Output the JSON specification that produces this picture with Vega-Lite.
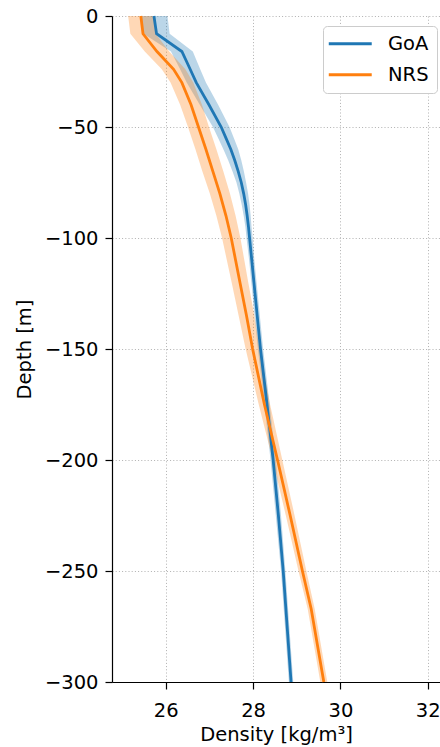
{
  "$schema": "https://vega.github.io/schema/vega-lite/v6.json",
  "width": 328,
  "height": 666,
  "autosize": {"type": "none"},
  "padding": {"left": 112, "top": 16, "right": 0, "bottom": 65},
  "background": "white",
  "config": {
    "view": {"stroke": null},
    "font": "DejaVu Sans",
    "axis": {
      "labelFont": "DejaVu Sans",
      "titleFont": "DejaVu Sans",
      "labelFontSize": 19.5,
      "titleFontSize": 19.5,
      "titleFontWeight": "normal",
      "labelColor": "black",
      "titleColor": "black",
      "domainColor": "black",
      "domainWidth": 1.2,
      "tickColor": "black",
      "tickWidth": 1.2,
      "tickSize": 7,
      "labelPadding": 7,
      "gridColor": "#b0b0b0",
      "gridDash": [1, 2.2],
      "gridWidth": 1,
      "gridOpacity": 1
    },
    "legend": {
      "labelFont": "DejaVu Sans",
      "labelFontSize": 19.5,
      "labelColor": "black"
    }
  },
  "data": {
    "values": [
      {"region": "GoA", "depth": 0, "density": 25.73, "lo": 25.42, "hi": 26.04},
      {"region": "GoA", "depth": -8, "density": 25.79, "lo": 25.49, "hi": 26.09},
      {"region": "GoA", "depth": -16, "density": 26.37, "lo": 26.12, "hi": 26.62},
      {"region": "GoA", "depth": -24, "density": 26.56, "lo": 26.33, "hi": 26.79},
      {"region": "GoA", "depth": -30, "density": 26.70, "lo": 26.48, "hi": 26.92},
      {"region": "GoA", "depth": -40, "density": 26.99, "lo": 26.78, "hi": 27.20},
      {"region": "GoA", "depth": -50, "density": 27.27, "lo": 27.08, "hi": 27.46},
      {"region": "GoA", "depth": -55, "density": 27.38, "lo": 27.20, "hi": 27.56},
      {"region": "GoA", "depth": -60, "density": 27.49, "lo": 27.32, "hi": 27.66},
      {"region": "GoA", "depth": -65, "density": 27.58, "lo": 27.43, "hi": 27.73},
      {"region": "GoA", "depth": -70, "density": 27.66, "lo": 27.53, "hi": 27.79},
      {"region": "GoA", "depth": -75, "density": 27.73, "lo": 27.62, "hi": 27.84},
      {"region": "GoA", "depth": -80, "density": 27.785, "lo": 27.685, "hi": 27.885},
      {"region": "GoA", "depth": -85, "density": 27.83, "lo": 27.74, "hi": 27.92},
      {"region": "GoA", "depth": -90, "density": 27.865, "lo": 27.785, "hi": 27.945},
      {"region": "GoA", "depth": -95, "density": 27.895, "lo": 27.825, "hi": 27.965},
      {"region": "GoA", "depth": -100, "density": 27.92, "lo": 27.85, "hi": 27.99},
      {"region": "GoA", "depth": -110, "density": 27.97, "lo": 27.91, "hi": 28.03},
      {"region": "GoA", "depth": -120, "density": 28.02, "lo": 27.96, "hi": 28.08},
      {"region": "GoA", "depth": -130, "density": 28.07, "lo": 28.01, "hi": 28.13},
      {"region": "GoA", "depth": -140, "density": 28.12, "lo": 28.06, "hi": 28.18},
      {"region": "GoA", "depth": -150, "density": 28.17, "lo": 28.11, "hi": 28.23},
      {"region": "GoA", "depth": -175, "density": 28.32, "lo": 28.26, "hi": 28.38},
      {"region": "GoA", "depth": -200, "density": 28.46, "lo": 28.40, "hi": 28.52},
      {"region": "GoA", "depth": -225, "density": 28.58, "lo": 28.52, "hi": 28.64},
      {"region": "GoA", "depth": -250, "density": 28.69, "lo": 28.64, "hi": 28.74},
      {"region": "GoA", "depth": -275, "density": 28.78, "lo": 28.73, "hi": 28.83},
      {"region": "GoA", "depth": -300, "density": 28.87, "lo": 28.82, "hi": 28.92},
      {"region": "NRS", "depth": 0, "density": 25.43, "lo": 25.14, "hi": 25.72},
      {"region": "NRS", "depth": -8, "density": 25.48, "lo": 25.19, "hi": 25.77},
      {"region": "NRS", "depth": -16, "density": 25.80, "lo": 25.52, "hi": 26.08},
      {"region": "NRS", "depth": -24, "density": 26.18, "lo": 25.91, "hi": 26.45},
      {"region": "NRS", "depth": -30, "density": 26.37, "lo": 26.11, "hi": 26.63},
      {"region": "NRS", "depth": -40, "density": 26.58, "lo": 26.33, "hi": 26.83},
      {"region": "NRS", "depth": -50, "density": 26.75, "lo": 26.51, "hi": 26.99},
      {"region": "NRS", "depth": -60, "density": 26.92, "lo": 26.68, "hi": 27.16},
      {"region": "NRS", "depth": -70, "density": 27.08, "lo": 26.84, "hi": 27.32},
      {"region": "NRS", "depth": -80, "density": 27.24, "lo": 27.01, "hi": 27.47},
      {"region": "NRS", "depth": -90, "density": 27.38, "lo": 27.16, "hi": 27.60},
      {"region": "NRS", "depth": -100, "density": 27.50, "lo": 27.29, "hi": 27.71},
      {"region": "NRS", "depth": -110, "density": 27.60, "lo": 27.40, "hi": 27.80},
      {"region": "NRS", "depth": -120, "density": 27.70, "lo": 27.51, "hi": 27.89},
      {"region": "NRS", "depth": -135, "density": 27.85, "lo": 27.67, "hi": 28.03},
      {"region": "NRS", "depth": -150, "density": 27.99, "lo": 27.83, "hi": 28.15},
      {"region": "NRS", "depth": -175, "density": 28.26, "lo": 28.13, "hi": 28.39},
      {"region": "NRS", "depth": -200, "density": 28.56, "lo": 28.45, "hi": 28.67},
      {"region": "NRS", "depth": -225, "density": 28.85, "lo": 28.75, "hi": 28.95},
      {"region": "NRS", "depth": -250, "density": 29.13, "lo": 29.04, "hi": 29.22},
      {"region": "NRS", "depth": -267, "density": 29.33, "lo": 29.25, "hi": 29.41},
      {"region": "NRS", "depth": -300, "density": 29.62, "lo": 29.54, "hi": 29.70}
    ]
  },
  "encoding": {
    "y": {
      "field": "depth",
      "type": "quantitative",
      "scale": {"domain": [-300, 0], "nice": false, "zero": false},
      "axis": {"values": [0, -50, -100, -150, -200, -250, -300], "title": "Depth [m]", "titlePadding": 10, "grid": true, "labelFontSize": 19.5, "titleFontSize": 19.5}
    },
    "color": {
      "field": "region",
      "type": "nominal",
      "scale": {"domain": ["GoA", "NRS"], "range": ["#1f77b4", "#ff7f0e"]},
      "legend": {
        "title": null,
        "orient": "none",
        "legendX": 211,
        "legendY": 10,
        "symbolType": "M-3,0H3",
        "symbolSize": 205,
        "symbolOffset": 9.5,
        "symbolStrokeWidth": 2.8,
        "symbolOpacity": 1,
        "symbolFillColor": "transparent",
        "labelOffset": 28,
        "labelFontSize": 19.5,
        "rowPadding": 10,
        "padding": 8,
        "fillColor": "white",
        "strokeColor": "#cccccc",
        "cornerRadius": 4
      }
    }
  },
  "layer": [
    {
      "mark": {"type": "area", "orient": "horizontal", "opacity": 0.3},
      "encoding": {
        "x": {
          "field": "lo",
          "type": "quantitative",
          "scale": {"domain": [24.77, 32.28], "nice": false, "zero": false},
          "axis": {"values": [26, 28, 30, 32], "title": "Density [kg/m³]", "titlePadding": 6, "labelPadding": 12, "grid": true, "labelFontSize": 19.5, "titleFontSize": 19.5}
        },
        "x2": {"field": "hi"}
      }
    },
    {
      "mark": {"type": "line", "strokeWidth": 2.8},
      "encoding": {
        "x": {"field": "density", "type": "quantitative"},
        "order": {"field": "depth", "type": "quantitative", "sort": "descending"}
      }
    }
  ]
}
